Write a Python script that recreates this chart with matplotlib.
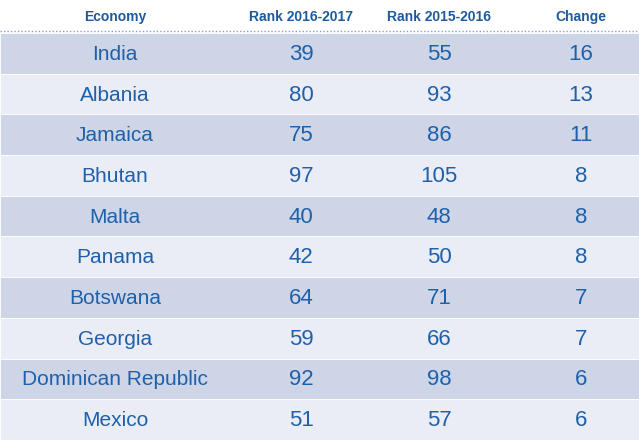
import matplotlib
matplotlib.use("Agg")
import matplotlib.pyplot as plt
from matplotlib.patches import Rectangle

columns = ["Economy", "Rank 2016-2017", "Rank 2015-2016", "Change"]
economies = ["India", "Albania", "Jamaica", "Bhutan", "Malta", "Panama",
             "Botswana", "Georgia", "Dominican Republic", "Mexico"]
rank_2016_2017 = [39, 80, 75, 97, 40, 42, 64, 59, 92, 51]
rank_2015_2016 = [55, 93, 86, 105, 48, 50, 71, 66, 98, 57]
change = [16, 13, 11, 8, 8, 8, 7, 7, 6, 6]

plt.rcParams["font.family"] = ["Liberation Sans", "DejaVu Sans"]

W, H = 639, 440
fig = plt.figure(figsize=(W / 100, H / 100), dpi=100)
ax = fig.add_axes([0, 0, 1, 1])
ax.set_xlim(0, W)
ax.set_ylim(H, 0)
ax.axis("off")

col_x = [115, 301, 439, 581]
header_y = 17
top = 33
row_h = (H - top) / len(economies)
dark = "#cdd5e7"
light = "#eaecf6"
text_c = "#1f60aa"
head_c = "#1d5a9e"

for i, name in enumerate(columns):
    ax.text(col_x[i], header_y, name, ha="center", va="center",
            fontsize=10, fontweight="bold", color=head_c)

ax.plot([0, W], [top - 1.5, top - 1.5], color="#8b9cc2", lw=1.0,
        linestyle=(0, (1, 1.5)))

for r, econ in enumerate(economies):
    y0 = top + r * row_h
    ax.add_patch(Rectangle((0, y0), W, row_h, facecolor=dark if r % 2 == 0 else light,
                           edgecolor="white", lw=0.6))
    yc = y0 + row_h / 2 + 1
    ax.text(col_x[0], yc, econ, ha="center", va="center",
            fontsize=15, color=text_c)
    nums = [rank_2016_2017[r], rank_2015_2016[r], change[r]]
    for c, v in enumerate(nums, start=1):
        ax.text(col_x[c], yc, str(v), ha="center", va="center",
                fontsize=16, color=text_c)

fig.savefig("out.png", dpi=100)
